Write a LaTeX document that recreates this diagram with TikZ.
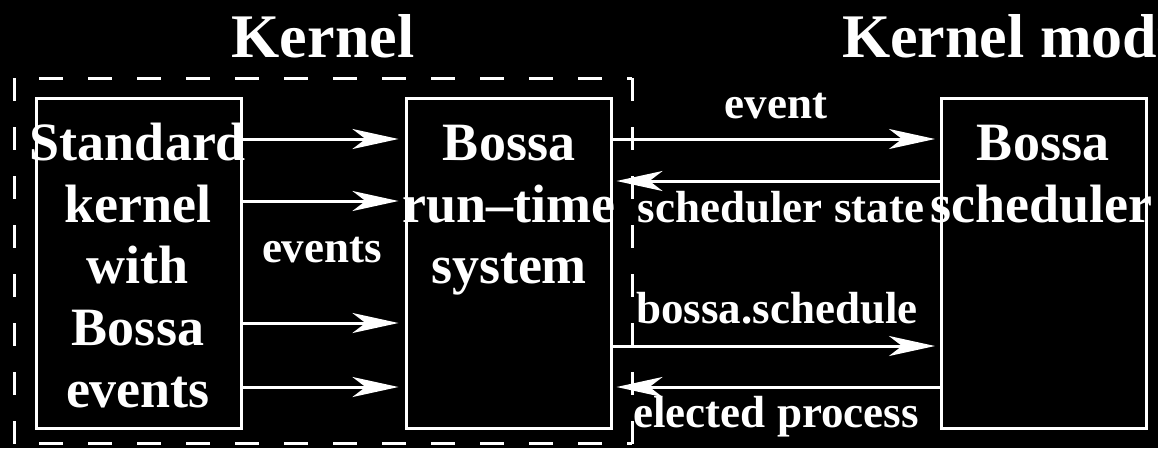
\documentclass[tikz,border=0pt]{standalone}
\usepackage{fontspec}
\setmainfont{Liberation Serif}
\usetikzlibrary{arrows.meta}
\begin{document}
\begin{tikzpicture}[x=1pt,y=-1pt,
  box/.style={draw=white,line width=3pt,minimum width=205pt,minimum height=330pt,inner sep=0pt,outer sep=0pt},
  boxtext/.style={text=white,font=\fontsize{54}{62}\selectfont\bfseries,anchor=base,inner sep=0pt},
  lbl/.style={text=white,font=\fontsize{45}{52}\selectfont\bfseries,anchor=base,inner sep=0pt},
  title/.style={text=white,font=\fontsize{62}{70}\selectfont\bfseries,anchor=base,inner sep=0pt},
  arr/.style={draw=white,line width=3pt,-{Stealth[length=46pt,width=20pt,inset=13pt]}},
  frame/.style={draw=white,line width=3pt,dash pattern=on 24pt off 25pt}
]
\useasboundingbox (0,0) rectangle (1158,448);
\clip (0,0) rectangle (1158,448);
\fill[black] (0,0) rectangle (1158,448);

% dashed kernel frame
\draw[frame,dash phase=24pt] (14,78) -- (632,78);
\draw[frame,dash phase=24pt] (14,443) -- (632,443);
\draw[frame,dash pattern=on 23pt off 26pt] (14,78) -- (14,448);
\draw[frame,dash pattern=on 23pt off 26pt] (632,78) -- (632,448);

% titles
\node[title] (tk) at (323,57) {Kernel};
\node[title,anchor=base west] (tm) at (842,57) {Kernel module};

% boxes
\node[box] (lk) at (138.5,263) {};
\node[box] (rt) at (509,263) {};
\node[box] (bs) at (1043.5,263) {};

% box texts
\node[boxtext] (l1) at (138,160) {Standard};
\node[boxtext] (l2) at (138,222) {kernel};
\node[boxtext] (l3) at (138,283) {with};
\node[boxtext] (l4) at (138,345) {Bossa};
\node[boxtext] (l5) at (138,407) {events};
\node[boxtext] (m1) at (509,160) {Bossa};
\node[boxtext] (m2) at (509,222) {run--time};
\node[boxtext] (m3) at (509,283) {system};
\node[boxtext] (r1) at (1043,160) {Bossa};
\node[boxtext] (r2) at (1041,222) {scheduler};

% left arrows
\draw[arr,shorten >=8pt] (lk.east |- 0,139) -- (rt.west |- 0,139);
\draw[arr,shorten >=8pt] (lk.east |- 0,201) -- (rt.west |- 0,201);
\draw[arr,shorten >=8pt] (lk.east |- 0,323) -- (rt.west |- 0,323);
\draw[arr,shorten >=8pt] (lk.east |- 0,387) -- (rt.west |- 0,387);
\node[lbl] (ev) at (322,262) {events};

% right arrows
\draw[arr,shorten >=6pt] (rt.east |- 0,139) -- (bs.west |- 0,139);
\draw[arr,shorten >=5pt] (bs.west |- 0,181) -- (rt.east |- 0,181);
\draw[arr,shorten >=6pt] (rt.east |- 0,346) -- (bs.west |- 0,346);
\draw[arr,shorten >=5pt] (bs.west |- 0,387) -- (rt.east |- 0,387);
\node[lbl] (e1) at (776,118) {event};
\node[lbl] (e2) at (781,222) {scheduler state};
\node[lbl] (e3) at (777,323) {bossa.schedule};
\node[lbl] (e4) at (776,427) {elected process};
\end{tikzpicture}
\end{document}
